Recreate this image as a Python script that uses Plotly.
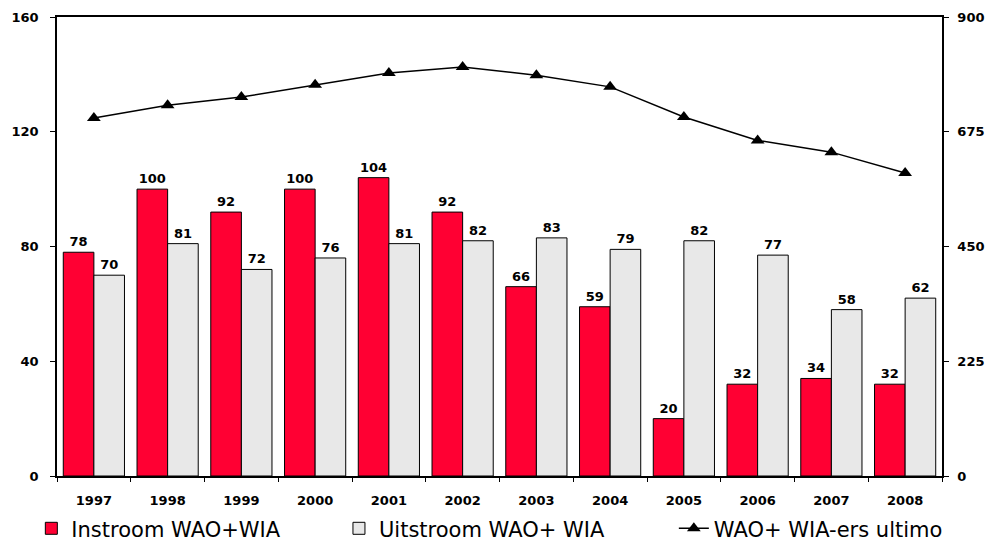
import plotly.graph_objects as go

years = ["1997", "1998", "1999", "2000", "2001", "2002", "2003", "2004", "2005", "2006", "2007", "2008"]
instroom = [78, 100, 92, 100, 104, 92, 66, 59, 20, 32, 34, 32]
uitstroom = [70, 81, 72, 76, 81, 82, 83, 79, 82, 77, 58, 62]
ultimo = [702, 727, 743, 767, 790, 802, 786, 763, 704, 658, 635, 594]

left_ticks = [0, 40, 80, 120, 160]
right_ticks = [0, 225, 450, 675, 900]

tick_font = dict(family="DejaVu Sans", size=13, color="black", weight="bold")
leg_font = dict(family="DejaVu Sans", size=21, color="black")

fig = go.Figure()
fig.add_trace(go.Bar(
    x=years, y=instroom, name="Instroom WAO+WIA", legend="legend",
    marker=dict(color="#FF0033", line=dict(color="black", width=1)),
    text=instroom, textposition="outside", cliponaxis=False,
    textfont=dict(family="DejaVu Sans", size=13, color="black", weight="bold"),
))
fig.add_trace(go.Bar(
    x=years, y=uitstroom, name="Uitstroom WAO+ WIA", legend="legend2",
    marker=dict(color="#E8E8E8", line=dict(color="black", width=1)),
    text=uitstroom, textposition="outside", cliponaxis=False,
    textfont=dict(family="DejaVu Sans", size=13, color="black", weight="bold"),
))
fig.add_trace(go.Scatter(
    x=years, y=ultimo, name="WAO+ WIA-ers ultimo", yaxis="y2", legend="legend3",
    mode="lines+markers",
    line=dict(color="black", width=1.5),
    marker=dict(symbol="triangle-up", size=12, color="black"),
))

def leg(xpos):
    return dict(
        orientation="h", x=xpos, xanchor="left", yref="container", y=0.03,
        yanchor="middle", font=leg_font, bgcolor="rgba(0,0,0,0)",
        borderwidth=0, tracegroupgap=0,
    )

fig.update_layout(
    width=988, height=545,
    margin=dict(l=57, r=46, t=17, b=69, autoexpand=False),
    paper_bgcolor="white", plot_bgcolor="white",
    barmode="group", bargap=0.17, bargroupgap=0,
    xaxis=dict(
        type="category", range=[-0.5, 11.5], tickson="boundaries",
        ticks="outside", ticklen=4, ticklabelstandoff=12,
        tickcolor="black", showline=True, linecolor="black", linewidth=1.5,
        mirror=True, showgrid=False, tickfont=tick_font, automargin=False,
    ),
    yaxis=dict(
        range=[0, 160], tickvals=left_ticks, ticks="outside", ticklen=5,
        ticklabelstandoff=9,
        tickcolor="black", showline=True, linecolor="black", linewidth=1.5,
        showgrid=False, zeroline=False, tickfont=tick_font, automargin=False,
    ),
    yaxis2=dict(
        range=[0, 900], tickvals=right_ticks, overlaying="y", side="right",
        ticks="outside", ticklen=5, ticklabelstandoff=6, tickcolor="black",
        showline=True, linecolor="black", linewidth=1.5, showgrid=False,
        zeroline=False, tickfont=tick_font, automargin=False,
    ),
    legend=leg(-0.029),
    legend2=leg(0.3186),
    legend3=leg(0.697),
    showlegend=True,
)

fig.write_html("out.html", config={"displayModeBar": False},
               post_script="document.body.style.margin='0px';")
